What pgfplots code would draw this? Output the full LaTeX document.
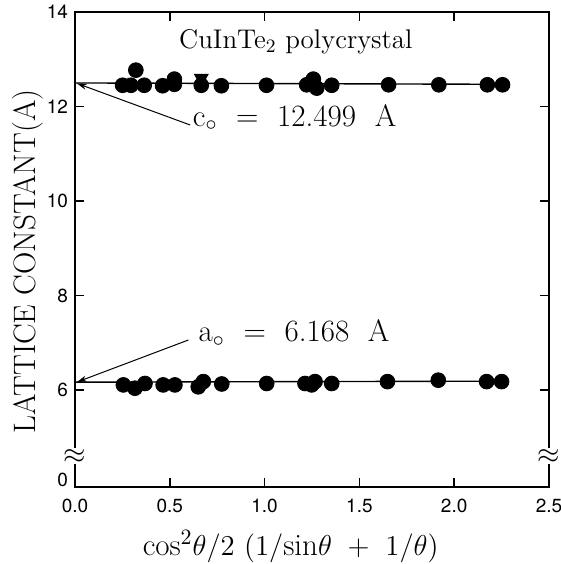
\documentclass[border=0pt]{standalone}
\usepackage{pgfplots}
\pgfplotsset{compat=1.18}
\usepackage{fontspec}
\setsansfont{TeX Gyre Heros}
\usetikzlibrary{arrows.meta}

\begin{document}
\begin{tikzpicture}
\useasboundingbox (-37.5pt,-38.5pt) rectangle (243pt,243.5pt);
\begin{axis}[
  at={(0,0)}, anchor=south west,
  scale only axis,
  width=237pt, height=237.5pt,
  xmin=0, xmax=2.5,
  ymin=3.95, ymax=14,
  xtick={0,0.5,1,1.5,2,2.5},
  ytick={6,8,10,12,14},
  extra y ticks={4.1},
  extra y tick labels={0},
  extra y tick style={major tick length=0pt},
  xticklabel style={/pgf/number format/fixed, /pgf/number format/fixed zerofill,
    /pgf/number format/precision=1, yshift=-2.5pt},
  /pgf/number format/assume math mode=true,
  tick label style={font=\sffamily\fontsize{9.5}{11}\selectfont},
  tick align=inside,
  major tick length=4.5pt,
  tick style={line width=0.8pt, black},
  axis line style={line width=0.9pt},
  xlabel={$\cos^{2}\!\theta/2\ (1/\mathrm{sin}\theta\ +\ 1/\theta)$},
  ylabel={LATTICE CONSTANT(A)},
  xlabel style={font=\fontsize{15.5}{18}\selectfont, at={(axis description cs:0.455,-0.125)}, anchor=center},
  ylabel style={font=\fontsize{15.5}{18}\selectfont, at={(axis description cs:-0.1,0.475)}, anchor=center},
  clip=false,
]
% fitted lines
\addplot[black, line width=0.7pt] coordinates {(0,12.499) (2.28,12.47)};
\addplot[black, line width=0.7pt] coordinates {(0,6.168) (2.28,6.19)};
% c axis
\addplot[only marks, mark=*, mark size=3.7pt, black] coordinates {
  (0.251,12.45) (0.295,12.45) (0.321,12.77) (0.365,12.45) (0.462,12.44)
  (0.524,12.47) (0.524,12.58) (0.666,12.45) (0.772,12.44) (1.010,12.45)
  (1.222,12.46) (1.257,12.58) (1.275,12.39) (1.354,12.45) (1.654,12.46)
  (1.919,12.46) (2.175,12.46) (2.255,12.46)};
\addplot[only marks, mark=triangle*, mark size=4pt, black,
  mark options={rotate=180}] coordinates {(0.666,12.60)};
% a axis
\addplot[only marks, mark=*, mark size=3.7pt, black] coordinates {
  (0.255,6.11) (0.316,6.04) (0.369,6.14) (0.465,6.11) (0.527,6.11)
  (0.650,6.07) (0.677,6.18) (0.774,6.13) (1.011,6.14) (1.213,6.14)
  (1.248,6.11) (1.266,6.18) (1.354,6.14) (1.648,6.18) (1.916,6.21)
  (2.171,6.18) (2.250,6.18)};
% annotations
\node[font=\fontsize{13.5}{16}\selectfont] at (axis cs:1.165,13.37) {CuInTe\textsubscript{2} polycrystal};
\draw[-{Stealth[length=5pt,width=3pt]}, line width=0.5pt]
  (axis cs:0.607,11.61) -- (axis cs:0.01,12.49);
\draw[-{Stealth[length=5pt,width=3pt]}, line width=0.5pt]
  (axis cs:0.598,7.06) -- (axis cs:0.01,6.17);
\node[font=\fontsize{15.5}{18}\selectfont, anchor=west, inner sep=0pt] at (axis cs:0.62,11.76)
  {c$_{\circ}$\ \ =\ \ 12.499\ \ A};
\node[font=\fontsize{15.5}{18}\selectfont, anchor=west, inner sep=0pt] at (axis cs:0.65,7.21)
  {a$_{\circ}$\ \ =\ \ 6.168\ \ A};
% axis break marks
\node[fill=white, inner sep=0.5pt, font=\Large] at (rel axis cs:0,0.065) {$\approx$};
\node[fill=white, inner sep=0.5pt, font=\Large] at (rel axis cs:1,0.065) {$\approx$};
\end{axis}
\end{tikzpicture}
\end{document}
